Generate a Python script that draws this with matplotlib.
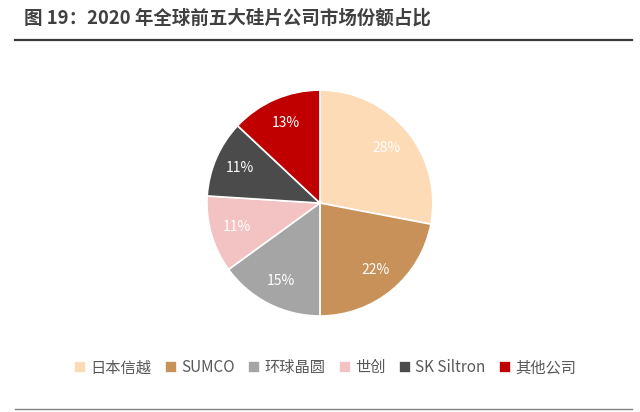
import matplotlib.pyplot as plt
from matplotlib.lines import Line2D

plt.rcParams['font.family'] = ['Noto Sans CJK SC', 'DejaVu Sans']

# market share, 2020
companies = ["日本信越", "SUMCO", "环球晶圆", "世创", "SK Siltron", "其他公司"]
shares = [28, 22, 15, 11, 11, 13]
colors = ["#FDDBB6", "#C8915A", "#A5A5A5", "#F2C3C2", "#4B4B4B", "#C00000"]

fig = plt.figure(figsize=(6.4, 4.12), dpi=100)

# title and rules
fig.text(0.038, 0.955, "图 19：2020 年全球前五大硅片公司市场份额占比",
         fontsize=13.3, fontweight="bold", color="#404040", va="center")
fig.add_artist(Line2D([0.024, 0.988], [0.902, 0.902], color="#3a3a3a", lw=1.6))
fig.add_artist(Line2D([0.024, 0.988], [0.007, 0.007], color="#808080", lw=1.0))

ax = fig.add_axes([0.5 - 0.1766, 0.507 - 0.2743, 0.353, 0.549])
wedges, texts, autotexts = ax.pie(
    shares, colors=colors, startangle=90, counterclock=False,
    autopct="%d%%", pctdistance=0.77,
    wedgeprops=dict(edgecolor="white", linewidth=1.2),
    textprops=dict(color="white", fontsize=10))
ax.set_xlim(-1, 1)
ax.set_ylim(-1, 1)
ax.set_aspect("equal")

fig.legend(wedges, companies, loc="center", bbox_to_anchor=(0.508, 0.107),
           ncol=6, frameon=False, fontsize=11, handlelength=0.8,
           handleheight=0.8, handletextpad=0.25, columnspacing=0.9,
           labelcolor="#595959")

fig.savefig("out.png", dpi=100)
